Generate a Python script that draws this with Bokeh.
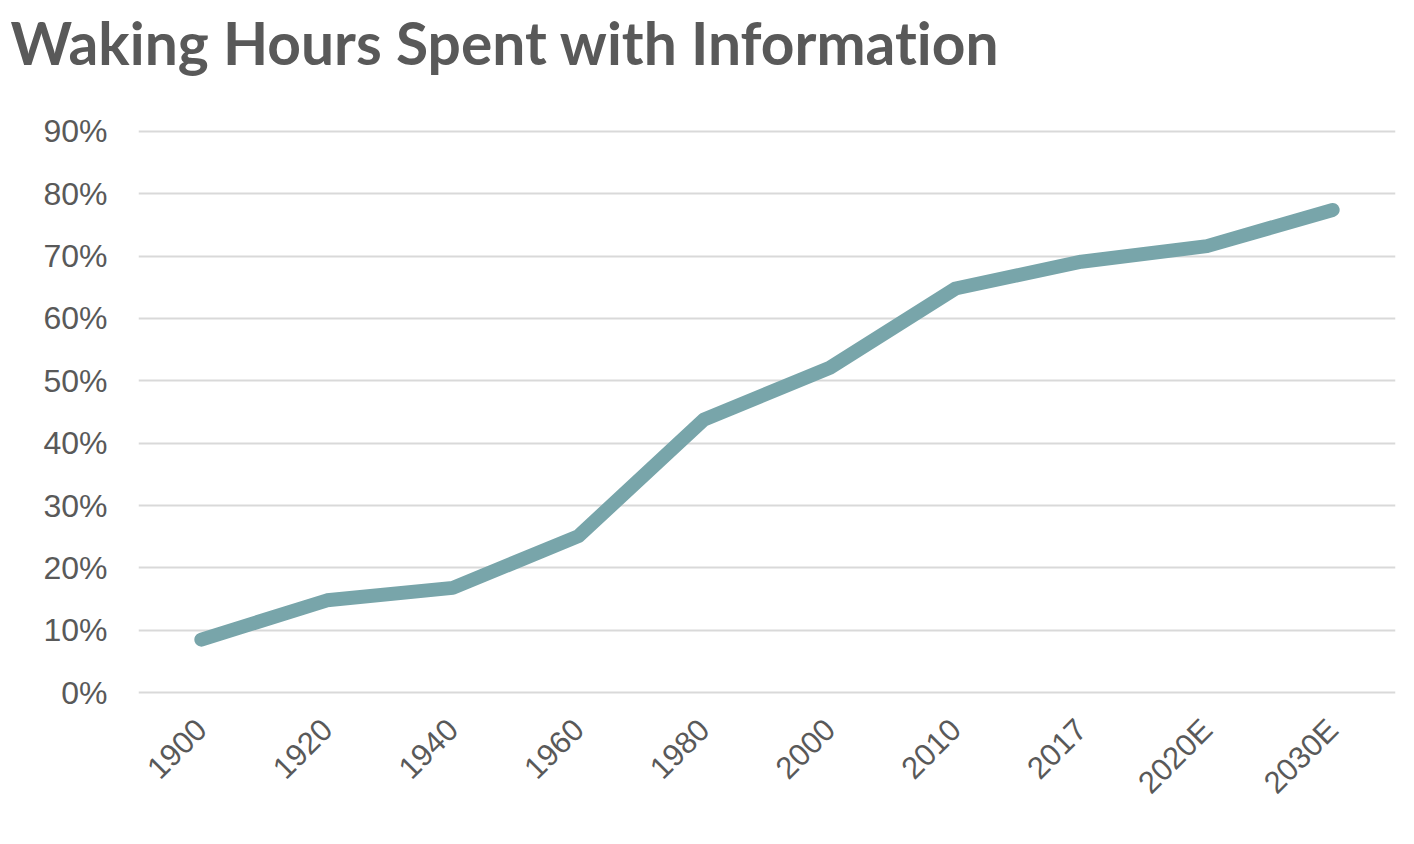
from bokeh.plotting import figure
from bokeh.layouts import column
from bokeh.models import Range1d, FixedTicker, PrintfTickFormatter
from bokeh.core.properties import value
from bokeh.embed import file_html
from bokeh.resources import INLINE
import math

title_text = "Waking Hours Spent with Informat\u200cion"
years = ["1900", "1920", "1940", "1960", "1980", "2000", "2010", "2017", "2020E", "2030E"]
share_pct = [8.5, 14.8, 16.8, 25.1, 43.8, 52.1, 64.8, 69.1, 71.6, 77.4]
y_ticks = [0, 10, 20, 30, 40, 50, 60, 70, 80, 90]

TEXT = "#595959"
W = 1406
TH = 100

# title strip
t = figure(width=W, height=TH, x_range=Range1d(0, W), y_range=Range1d(TH, 0),
           output_backend="svg", toolbar_location=None,
           x_axis_type=None, y_axis_type=None, min_border=0)
t.frame_align = False
t.outline_line_color = None
t.grid.visible = False
t.text(x=[10], y=[42], text=[title_text], text_font=value("Lato"),
       text_font_style="bold", text_font_size="58.7px", text_color=TEXT,
       text_align="left", text_baseline="alphabetic")

p = figure(x_range=years, y_range=Range1d(-0.3, 90.3),
           width=W, height=836 - TH, output_backend="svg", toolbar_location=None,
           min_border_left=138, min_border_right=11, min_border_top=129 - TH,
           min_border_bottom=142)
p.frame_align = False

p.line(x=years, y=share_pct, line_width=14, line_color="#78A5AA",
       line_cap="round", line_join="round")

p.outline_line_color = None
p.xgrid.grid_line_color = None
p.ygrid.grid_line_color = "#D9D9D9"
p.ygrid.grid_line_width = 2
p.yaxis.ticker = FixedTicker(ticks=y_ticks)
p.yaxis.formatter = PrintfTickFormatter(format="%d%%")

for ax in (p.xaxis[0], p.yaxis[0]):
    ax.axis_line_color = None
    ax.major_tick_line_color = None
    ax.minor_tick_line_color = None
    ax.major_tick_out = 0
    ax.major_tick_in = 0
    ax.major_label_text_font = "Liberation Sans"
    ax.major_label_text_color = TEXT

p.yaxis.major_label_text_font_size = "32px"
p.xaxis.major_label_text_font_size = "31px"
p.yaxis.major_label_standoff = 31
p.xaxis.major_label_standoff = 30
p.xaxis.major_label_orientation = math.pi / 4

layout = column(t, p, spacing=0)
open("out.html", "w").write(file_html(layout, INLINE))
